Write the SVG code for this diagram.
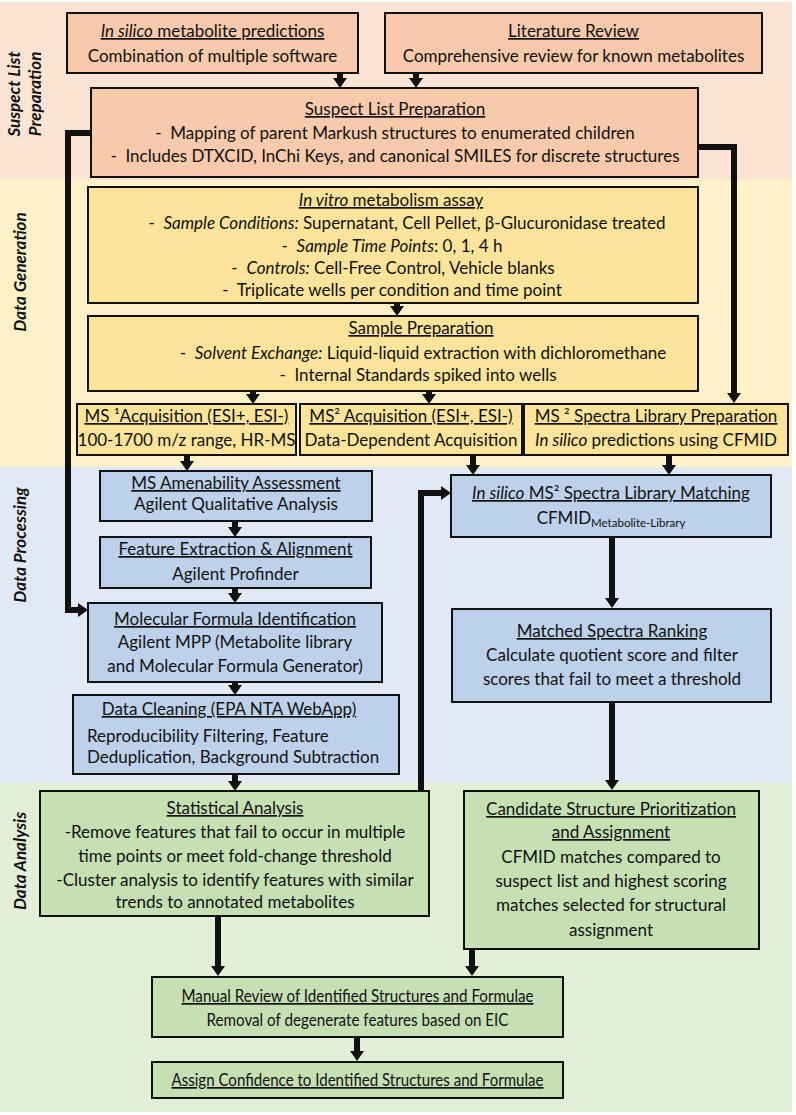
<svg xmlns="http://www.w3.org/2000/svg" width="796" height="1115" viewBox="0 0 796 1115">
<style>
text{font-family:Lato,"Open Sans","Liberation Sans",sans-serif;font-size:17px;fill:#111;}
.c{text-anchor:middle;}
.u{text-decoration:underline;}
.i{font-style:italic;}
.lab{font-weight:bold;font-style:italic;font-size:17px;text-anchor:middle;}
.bx{stroke:#111;stroke-width:2;}
.o{fill:#f8c9aa;}
.y{fill:#fee39a;}
.b{fill:#bdd2ea;}
.g{fill:#c6e0b4;}
.cn line,.cn polyline{stroke:#111;stroke-width:6;fill:none;stroke-linejoin:miter;}
</style>
<defs>
<marker id="ah" markerUnits="userSpaceOnUse" viewBox="0 0 10 14" markerWidth="10" markerHeight="14" refX="0" refY="7" orient="auto">
<path d="M0,0 L10,7 L0,14 z" fill="#111"/>
</marker>
</defs>
<rect x="0" y="0" width="796" height="1115" fill="#ffffff"/>
<g id="bands">
<rect x="0" y="2" width="792" height="178" fill="#fce4d4"/>
<rect x="0" y="180" width="792" height="287" fill="#fef1c8"/>
<rect x="0" y="467" width="792" height="316" fill="#e1e9f4"/>
<rect x="0" y="783" width="792" height="329" fill="#e3efd7"/>
<text class="lab" transform="translate(20,94) rotate(-90)">Suspect List</text>
<text class="lab" transform="translate(41,94) rotate(-90)">Preparation</text>
<text class="lab" transform="translate(26,272) rotate(-90)">Data Generation</text>
<text class="lab" transform="translate(26,545) rotate(-90)">Data Processing</text>
<text class="lab" transform="translate(26,861) rotate(-90)">Data Analysis</text>
</g>
<g id="n-insilico">
<rect class="bx o" x="67" y="13" width="291" height="60"/>
<text class="c u" x="212.5" y="37"><tspan class="i">In silico</tspan> metabolite predictions</text>
<text class="c" x="212.5" y="62">Combination of multiple software</text>
</g>
<g id="n-literature">
<rect class="bx o" x="385" y="13" width="377" height="60"/>
<text class="c u" x="573.5" y="37">Literature Review</text>
<text class="c" x="573.5" y="62">Comprehensive review for known metabolites</text>
</g>
<g id="n-suspect">
<rect class="bx o" x="91" y="88" width="607" height="89"/>
<text class="c u" x="395" y="115">Suspect List Preparation</text>
<text class="c" x="395" y="139">-&#160; Mapping of parent Markush structures to enumerated children</text>
<text class="c" x="395" y="162">-&#160; Includes DTXCID, InChi Keys, and canonical SMILES for discrete structures</text>
</g>
<g id="n-invitro">
<rect class="bx y" x="88" y="187" width="610" height="116"/>
<text class="c" x="391" y="206"><tspan class="u"><tspan class="i">In vitro</tspan> metabolism assay</tspan></text>
<text class="c" x="407" y="229">-&#160; <tspan class="i">Sample Conditions:</tspan> Supernatant, Cell Pellet, β-Glucuronidase treated</text>
<text class="c" x="392" y="252">-&#160; <tspan class="i">Sample Time Points</tspan>: 0, 1, 4 h</text>
<text class="c" x="393" y="274">-&#160; <tspan class="i">Controls:</tspan> Cell-Free Control, Vehicle blanks</text>
<text class="c" x="392" y="296">-&#160; Triplicate wells per condition and time point</text>
</g>
<g id="n-sampleprep">
<rect class="bx y" x="88" y="316" width="610" height="75"/>
<text class="c u" x="421" y="334">Sample Preparation</text>
<text class="c" x="423" y="359">-&#160; <tspan class="i">Solvent Exchange:</tspan> Liquid-liquid extraction with dichloromethane</text>
<text class="c" x="418" y="381">-&#160; Internal Standards spiked into wells</text>
</g>
<g id="n-ms1">
<rect class="bx y" x="77" y="404" width="219" height="51"/>
<text class="c u" x="186.5" y="422">MS ¹Acquisition (ESI+, ESI-)</text>
<text class="c" x="186.5" y="446" font-size="16">100-1700 m/z range, HR-MS</text>
</g>
<g id="n-ms2acq">
<rect class="bx y" x="300" y="404" width="222" height="51"/>
<text class="c u" x="411" y="422">MS² Acquisition (ESI+, ESI-)</text>
<text class="c" x="411" y="446">Data-Dependent Acquisition</text>
</g>
<g id="n-ms2lib">
<rect class="bx y" x="524" y="404" width="264" height="51"/>
<text class="c u" x="656" y="422">MS ² Spectra Library Preparation</text>
<text class="c" x="656" y="446"><tspan class="i">In silico</tspan> predictions using CFMID</text>
</g>
<g id="n-amen">
<rect class="bx b" x="100" y="471" width="272" height="50"/>
<text class="c u" x="236" y="489">MS Amenability Assessment</text>
<text class="c" x="236" y="510">Agilent Qualitative Analysis</text>
</g>
<g id="n-feature">
<rect class="bx b" x="100" y="537" width="271" height="51"/>
<text class="c u" x="235.5" y="555">Feature Extraction &amp; Alignment</text>
<text class="c" x="235.5" y="580">Agilent Profinder</text>
</g>
<g id="n-molform">
<rect class="bx b" x="88" y="603" width="294" height="79"/>
<text class="c u" x="235" y="625">Molecular Formula Identification</text>
<text class="c" x="235" y="648">Agilent MPP (Metabolite library</text>
<text class="c" x="235" y="672">and Molecular Formula Generator)</text>
</g>
<g id="n-cleaning">
<rect class="bx b" x="73" y="695" width="326" height="79"/>
<text class="c u" x="229" y="715">Data Cleaning (EPA NTA WebApp)</text>
<text x="87" y="742">Reproducibility Filtering, Feature</text>
<text x="87" y="763">Deduplication, Background Subtraction</text>
</g>
<g id="n-matching">
<rect class="bx b" x="451" y="475" width="320" height="62"/>
<text class="c u" x="611" y="499"><tspan class="i">In silico</tspan> MS² Spectra Library Matching</text>
<text class="c" x="611" y="524">CFMID<tspan font-size="11.5" dy="3">Metabolite-Library</tspan></text>
</g>
<g id="n-ranking">
<rect class="bx b" x="452" y="609" width="319" height="93"/>
<text class="c u" x="612" y="637">Matched Spectra Ranking</text>
<text class="c" x="612" y="661">Calculate quotient score and filter</text>
<text class="c" x="612" y="685">scores that fail to meet a threshold</text>
</g>
<g id="n-candidate">
<rect class="bx g" x="464" y="791" width="295" height="158"/>
<text class="c u" x="611" y="815">Candidate Structure Prioritization</text>
<text class="c u" x="611" y="838">and Assignment</text>
<text class="c" x="611" y="863">CFMID matches compared to</text>
<text class="c" x="611" y="887">suspect list and highest scoring</text>
<text class="c" x="611" y="911">matches selected for structural</text>
<text class="c" x="611" y="936">assignment</text>
</g>
<g id="n-stat">
<rect class="bx g" x="40" y="791" width="389" height="125"/>
<text class="c u" x="235" y="814">Statistical Analysis</text>
<text class="c" x="235" y="838">-Remove features that fail to occur in multiple</text>
<text class="c" x="235" y="862">time points or meet fold-change threshold</text>
<text class="c" x="235" y="886">-Cluster analysis to identify features with similar</text>
<text class="c" x="235" y="908">trends to annotated metabolites</text>
</g>
<g id="n-manual">
<rect class="bx g" x="152" y="977" width="411" height="60"/>
<text class="c u" x="357.5" y="1002" textLength="352" lengthAdjust="spacingAndGlyphs">Manual Review of Identified Structures and Formulae</text>
<text class="c" x="357.5" y="1026" textLength="302" lengthAdjust="spacingAndGlyphs">Removal of degenerate features based on EIC</text>
</g>
<g id="n-assign">
<rect class="bx g" x="152" y="1062" width="411" height="36"/>
<text class="c u" x="357.5" y="1086" textLength="372" lengthAdjust="spacingAndGlyphs">Assign Confidence to Identified Structures and Formulae</text>
</g>
<g class="cn" id="connectors">
<line x1="340" y1="74" x2="340" y2="78" marker-end="url(#ah)"/>
<line x1="416" y1="74" x2="416" y2="78" marker-end="url(#ah)"/>
<polyline points="91,133 68,133 68,610 78,610" marker-end="url(#ah)"/>
<polyline points="698,147 734,147 734,393" marker-end="url(#ah)"/>
<line x1="397" y1="304" x2="397" y2="306" marker-end="url(#ah)"/>
<line x1="253" y1="392" x2="253" y2="394" marker-end="url(#ah)"/>
<line x1="429" y1="392" x2="429" y2="394" marker-end="url(#ah)"/>
<line x1="187" y1="456" x2="187" y2="461" marker-end="url(#ah)"/>
<line x1="473" y1="456" x2="473" y2="465" marker-end="url(#ah)"/>
<line x1="669" y1="456" x2="669" y2="465" marker-end="url(#ah)"/>
<line x1="235" y1="522" x2="235" y2="527" marker-end="url(#ah)"/>
<line x1="235" y1="589" x2="235" y2="593" marker-end="url(#ah)"/>
<line x1="235" y1="683" x2="235" y2="685" marker-end="url(#ah)"/>
<line x1="235" y1="775" x2="235" y2="781" marker-end="url(#ah)"/>
<polyline points="421,790 421,493 441,493" marker-end="url(#ah)"/>
<line x1="612" y1="538" x2="612" y2="598" marker-end="url(#ah)"/>
<line x1="612" y1="703" x2="612" y2="780" marker-end="url(#ah)"/>
<line x1="218" y1="917" x2="218" y2="966" marker-end="url(#ah)"/>
<line x1="472" y1="950" x2="472" y2="966" marker-end="url(#ah)"/>
<line x1="357" y1="1038" x2="357" y2="1051" marker-end="url(#ah)"/>
</g>
</svg>
